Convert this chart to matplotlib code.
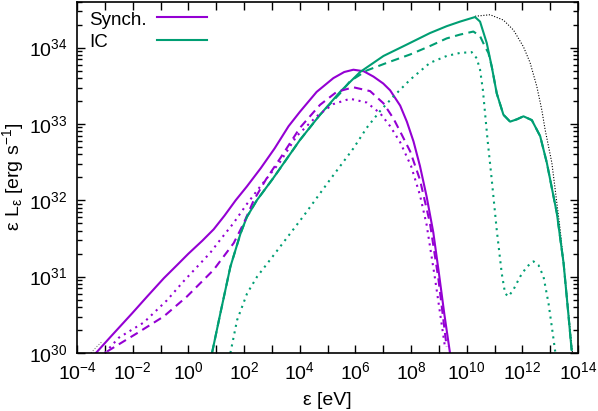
import numpy as np
import matplotlib
matplotlib.use("Agg")
import matplotlib.pyplot as plt
from matplotlib.ticker import LogLocator, NullFormatter

plt.rcParams['font.family'] = ['Liberation Sans', 'DejaVu Sans']
plt.rcParams['mathtext.fontset'] = 'custom'
plt.rcParams['mathtext.rm'] = 'Liberation Sans'
plt.rcParams['mathtext.it'] = 'Liberation Sans:italic'
plt.rcParams['mathtext.default'] = 'regular'

# values, as log10(eps [eV]) and log10(eps L_eps [erg/s])
synch_x = [-3.32, -2.8, -2.02, -1.48, -0.88, -0.41, 0.0, 0.5, 0.91, 1.3, 1.7, 2.1, 2.6, 3.1, 3.6,
           4.01, 4.61, 5.21, 5.6, 5.93, 6.3, 6.65, 7.0, 7.25, 7.61, 7.85, 8.09, 8.32, 8.56, 8.8, 9.0, 9.2, 9.4]
synch_y = [30.0, 30.21, 30.52, 30.74, 30.98, 31.15, 31.3, 31.47, 31.62, 31.8, 32.0, 32.18, 32.42, 32.68, 32.97,
           33.16, 33.42, 33.6, 33.68, 33.71, 33.69, 33.62, 33.53, 33.44, 33.24, 33.03, 32.77, 32.45, 32.05, 31.58, 31.05, 30.5, 30.0]

synch2_x = [-2.92, -1.84, -0.88, -0.05, 0.91, 1.63, 1.99, 2.35, 2.8, 3.3, 4.01, 4.73, 5.33, 5.93, 6.53, 7.01,
            7.37, 7.61, 7.97, 8.32, 8.68, 8.98, 9.28]
synch2_y = [30.02, 30.26, 30.48, 30.74, 31.09, 31.44, 31.7, 32.0, 32.28, 32.55, 32.95, 33.25, 33.42, 33.48, 33.43, 33.27,
            33.07, 32.9, 32.64, 32.27, 31.7, 30.98, 30.08]

synch3_x = [-3.0, -2.5, -1.6, -0.77, -0.17, 0.78, 1.14, 1.62, 2.1, 2.58, 3.29, 3.89, 4.61, 5.21, 5.81, 6.41,
            6.89, 7.25, 7.61, 8.0, 8.32, 8.56, 8.86, 9.22]
synch3_y = [30.0, 30.2, 30.4, 30.69, 30.94, 31.31, 31.48, 31.7, 31.95, 32.18, 32.5, 32.84, 33.1, 33.26, 33.33, 33.28,
            33.14, 32.97, 32.76, 32.45, 32.07, 31.68, 30.98, 30.08]

ic_x = [0.85, 1.15, 1.51, 1.87, 2.1, 2.46, 3.05, 3.53, 4.01, 4.73, 5.45, 6.17, 7.01, 7.85, 8.68, 9.28, 9.76,
        10.3, 10.48, 10.72, 10.9, 11.08, 11.32, 11.56, 11.8, 12.04, 12.34, 12.64, 12.88, 13.24, 13.48, 13.65, 13.77]
ic_y = [30.0, 30.52, 31.13, 31.56, 31.78, 32.0, 32.29, 32.54, 32.79, 33.12, 33.42, 33.68, 33.89, 34.04, 34.19, 34.28, 34.34,
        34.4, 34.34, 34.06, 33.75, 33.4, 33.12, 33.03, 33.06, 33.1, 33.05, 32.84, 32.49, 31.83, 31.18, 30.52, 30.04]

ic2_x = [0.85, 1.15, 1.51, 1.87, 2.1, 2.46, 3.05, 3.53, 4.01, 4.73, 5.45, 5.81, 6.41, 7.13, 7.97, 8.68, 9.28, 9.76,
         10.24, 10.48, 10.66, 10.78, 10.9, 11.08, 11.32, 11.56, 11.8, 12.04, 12.34, 12.64, 12.88, 13.24, 13.48, 13.65, 13.77]
ic2_y = [30.0, 30.52, 31.13, 31.56, 31.78, 32.0, 32.29, 32.54, 32.79, 33.12, 33.4, 33.56, 33.7, 33.8, 33.91, 34.02, 34.12, 34.17,
         34.21, 34.15, 34.01, 33.93, 33.75, 33.4, 33.12, 33.03, 33.06, 33.1, 33.05, 32.84, 32.49, 31.83, 31.18, 30.52, 30.04]

ic3_x = [1.51, 1.75, 2.11, 2.47, 3.0, 4.13, 5.09, 5.93, 6.41, 6.89, 7.37, 7.97, 8.68, 9.28, 9.76, 10.18, 10.36,
         10.48, 10.58, 10.66, 10.75, 10.9, 11.08, 11.26, 11.38, 11.5, 11.68, 11.92, 12.16, 12.4, 12.58, 12.76,
         12.94, 13.06, 13.18]
ic3_y = [30.0, 30.43, 30.78, 31.0, 31.25, 31.79, 32.27, 32.68, 32.95, 33.17, 33.36, 33.58, 33.8, 33.89, 33.93, 33.94, 33.86,
         33.71, 33.45, 33.14, 32.79, 32.27, 31.61, 31.04, 30.78, 30.74, 30.83, 31.0, 31.13, 31.2, 31.15, 31.0,
         30.65, 30.34, 30.02]

tot_x = [10.3, 10.84, 11.32, 11.68, 12.04, 12.28, 12.52, 12.7, 12.82, 13.06, 13.36, 13.54, 13.72, 13.8]
tot_y = [34.41, 34.43, 34.36, 34.23, 34.01, 33.8, 33.49, 33.18, 32.92, 32.49, 31.61, 30.96, 30.3, 30.0]
tot_lo_x = [-3.5, -3.3, -3.1]
tot_lo_y = [30.0, 30.08, 30.15]

xtick_exps = list(range(-4, 15))
ytick_exps = [30, 31, 32, 33, 34]
legend_labels = ['Synch.', 'IC']

purple = '#9400d3'
green = '#009e73'


def p(v):
    return 10.0 ** np.array(v)


fig = plt.figure(figsize=(5.98, 4.11), dpi=100)
ax = fig.add_axes([0.1288, 0.1411, 0.8378, 0.855])

ax.plot(p(tot_x), p(tot_y), color='black', lw=0.8, ls=(0, (1, 1.5)))
ax.plot(p(tot_lo_x), p(tot_lo_y), color='gray', lw=0.8, ls=(0, (1, 1.5)))

ax.plot(p(synch_x), p(synch_y), color=purple, lw=1.5)
ax.plot(p(ic_x), p(ic_y), color=green, lw=1.5)
ax.plot(p(synch2_x), p(synch2_y), color=purple, lw=1.5, ls=(0, (4, 2.6)))
ax.plot(p(ic2_x), p(ic2_y), color=green, lw=1.5, ls=(0, (4, 2.6)))
ax.plot(p(synch3_x), p(synch3_y), color=purple, lw=1.5, ls=(0, (1, 2.2)))
ax.plot(p(ic3_x), p(ic3_y), color=green, lw=1.5, ls=(0, (1, 2.2)))

ax.set_xscale('log')
ax.set_yscale('log')
ax.set_xlim(1e-4, 1e14)
ax.set_ylim(1e30, 4e34)

ax.set_xticks(p(xtick_exps))
ax.set_xticklabels(['$10^{%d}$' % e if e % 2 == 0 else '' for e in xtick_exps])
ax.xaxis.set_minor_locator(plt.NullLocator())
ax.set_yticks(p(ytick_exps))
ax.set_yticklabels(['$10^{%d}$' % e for e in ytick_exps])
ax.yaxis.set_minor_locator(LogLocator(base=10, subs=np.arange(2, 10), numticks=20))
ax.yaxis.set_minor_formatter(NullFormatter())

ax.tick_params(which='both', direction='in', top=True, right=True, labelsize=14)
ax.tick_params(which='major', length=6, width=1)
ax.tick_params(which='minor', length=3.5, width=1)
ax.tick_params(axis='y', pad=7)
ax.tick_params(axis='x', pad=6)
for s in ax.spines.values():
    s.set_linewidth(1.2)

ax.set_xlabel('ε [eV]', fontsize=14, labelpad=6)
ax.set_ylabel('ε L$_{ε}$ [erg s$^{-1}$]', fontsize=14, labelpad=2)

# gnuplot-style key: text on the left, sample line on the right
for lab, col, yb, yl in zip(legend_labels, [purple, green], [0.933, 0.871], [0.955, 0.89]):
    ax.text(0.024, yb, lab, transform=ax.transAxes, fontsize=13.5, va='baseline', ha='left')
    ax.plot([0.16, 0.259], [yl, yl], transform=ax.transAxes, color=col, lw=1.5)

fig.savefig('out.png', dpi=100)
